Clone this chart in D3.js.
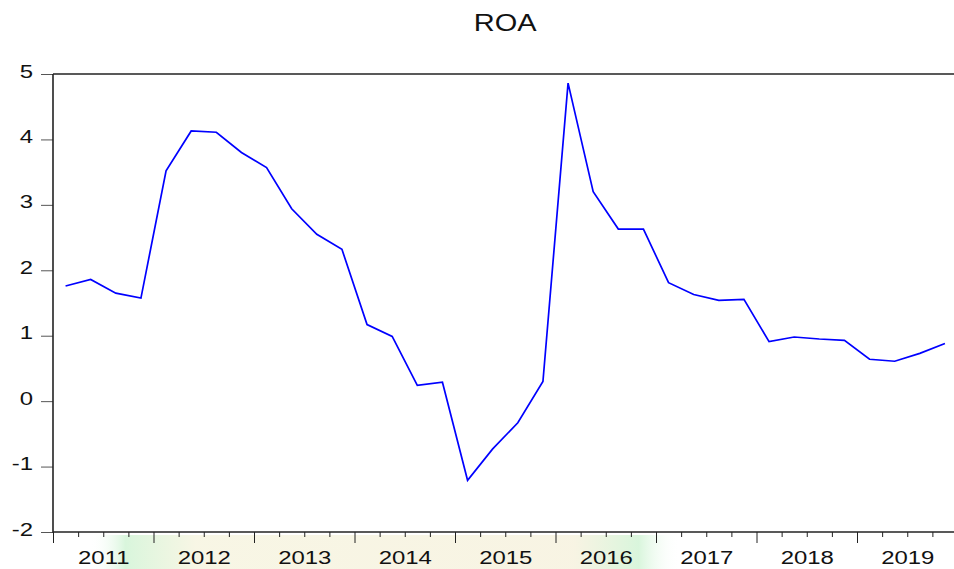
<!DOCTYPE html>
<html>
<head>
<meta charset="utf-8">
<script src="https://cdn.jsdelivr.net/npm/d3@7"></script>
<style>
  body { margin: 0; background: #fff; }
  svg { display: block; font-family: "Liberation Sans", Arial, sans-serif; }
</style>
</head>
<body>
<script>
// quarterly ROA, 2011Q1 .. 2019Q4
const title = "ROA";
const years = [2011, 2012, 2013, 2014, 2015, 2016, 2017, 2018, 2019];
const roa = [
  1.76, 1.86, 1.65, 1.575,
  3.52, 4.13, 4.11, 3.80,
  3.57, 2.94, 2.55, 2.32,
  1.17, 0.99, 0.24, 0.29,
  -1.21, -0.73, -0.33, 0.30,
  4.86, 3.20, 2.63, 2.63,
  1.81, 1.63, 1.54, 1.555,
  0.91, 0.98, 0.95, 0.93,
  0.64, 0.61, 0.73, 0.88
];
const yTicks = [-2, -1, 0, 1, 2, 3, 4, 5];

const W = 954, H = 569;
const margin = { top: 74, left: 53, bottom: 532, right: 957.5 };
const FONT = "'Liberation Sans', Arial, sans-serif";
const STRETCH = 1.26; // the source picture is widened horizontally

const data = roa.map((v, i) => ({ t: years[0] + (i + 0.5) / 4, v }));

const x = d3.scaleLinear()
  .domain([years[0], years[years.length - 1] + 1])
  .range([margin.left, margin.right]);
const y = d3.scaleLinear()
  .domain([-2, 5])
  .range([margin.bottom, margin.top]);

const svg = d3.select("body").append("svg")
  .attr("width", W)
  .attr("height", H)
  .attr("viewBox", [0, 0, W, H]);

// faint scanned watermark behind the year labels
const grad = svg.append("defs").append("linearGradient").attr("id", "wm");
[[0, "#ffffff", 0], [0.06, "#d2f4d6", 0.85], [0.18, "#f5f3dc", 0.75],
 [0.82, "#f5f0da", 0.75], [0.93, "#d2f4d6", 0.85], [1, "#ffffff", 0]]
  .forEach(([o, c, a]) => grad.append("stop")
    .attr("offset", o).attr("stop-color", c).attr("stop-opacity", a));
svg.append("rect")
  .attr("x", 90).attr("y", 535).attr("width", 590).attr("height", H - 535)
  .attr("fill", "url(#wm)");

// title
svg.append("text")
  .attr("transform", `translate(${(margin.left + margin.right) / 2},31) scale(${STRETCH},1)`)
  .attr("text-anchor", "middle")
  .attr("font-family", FONT)
  .attr("font-size", 23)
  .attr("fill", "#111")
  .text(title);

// y axis (plain hyphen for negatives, like the source)
const yAxis = svg.append("g")
  .attr("transform", `translate(${margin.left},0)`)
  .call(d3.axisLeft(y).tickValues(yTicks).tickFormat(d => String(d))
    .tickSize(12).tickPadding(8).tickSizeOuter(0));
yAxis.attr("font-family", FONT);
yAxis.select(".domain").remove();
yAxis.selectAll(".tick line").attr("stroke", "#555");
yAxis.selectAll(".tick text")
  .attr("x", 0)
  .attr("transform", `translate(-20,0) scale(${STRETCH},1)`)
  .attr("font-size", 19)
  .attr("fill", "#111")
  .attr("dy", "0.16em");

// x axis: quarter ticks, longer at year boundaries
const qTicks = d3.range(years[0], years[years.length - 1] + 1.001, 0.25);
const xAxis = svg.append("g")
  .attr("transform", `translate(0,${margin.bottom})`)
  .call(d3.axisBottom(x).tickValues(qTicks).tickFormat("").tickSizeOuter(0));
xAxis.select(".domain").remove();
xAxis.selectAll(".tick line")
  .attr("stroke", "#222")
  .attr("y2", d => Math.abs(d - Math.round(d)) < 1e-6 ? 11 : 5);

// year labels centred in each year
const xLabels = svg.append("g")
  .attr("transform", `translate(0,${margin.bottom})`)
  .call(d3.axisBottom(x)
    .tickValues(years.map(d => d + 0.5))
    .tickFormat(d => String(Math.floor(d)))
    .tickSize(0).tickPadding(18.5));
xLabels.attr("font-family", FONT);
xLabels.select(".domain").remove();
xLabels.selectAll(".tick text")
  .attr("transform", `scale(${STRETCH},1)`)
  .attr("font-size", 19)
  .attr("fill", "#111");

// frame: left, top, bottom
const frame = svg.append("g").attr("stroke", "#222").attr("stroke-width", 1.6).attr("fill", "none");
frame.append("line").attr("x1", margin.left).attr("x2", margin.left).attr("y1", margin.top).attr("y2", margin.bottom + 0.8);
frame.append("line").attr("x1", margin.left).attr("x2", margin.right).attr("y1", margin.top).attr("y2", margin.top);
frame.append("line").attr("x1", margin.left).attr("x2", margin.right).attr("y1", margin.bottom).attr("y2", margin.bottom);

// series
const line = d3.line().x(d => x(d.t)).y(d => y(d.v));
svg.append("path")
  .datum(data)
  .attr("fill", "none")
  .attr("stroke", "#0000ff")
  .attr("stroke-width", 1.7)
  .attr("stroke-linejoin", "miter")
  .attr("d", line);
</script>
</body>
</html>
